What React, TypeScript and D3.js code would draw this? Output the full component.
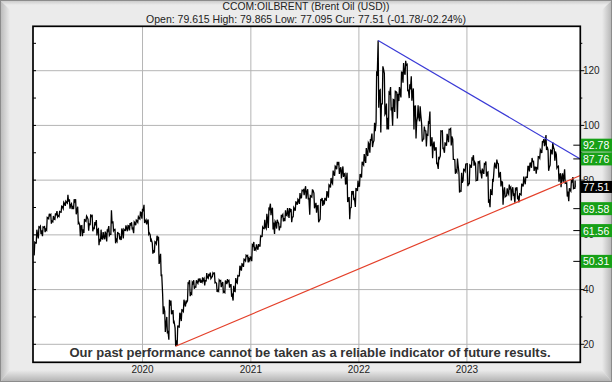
import React from 'react';
import * as d3 from 'd3';

const W = 612;
const H = 382;

// Weekly Brent data (Friday close, weekly high, weekly low)
const close2019 = [57.06,60.48,62.70,61.64,62.75,62.10,66.25,67.12,65.07,65.74,67.16,67.03,68.39,70.34,71.55,71.97,72.15,70.85,70.62,72.21,68.69,64.49,63.29,62.01,65.20,66.55,64.23,66.72,62.47,63.46,61.89,58.53,58.64,59.34,60.43,61.54,60.22,64.28,61.91,58.37,60.51,59.42,61.67,61.69,62.51,63.30,63.39,62.43,64.39,65.22,66.14,68.16];
const high2019 = [57.3,61.9,62.9,63.2,62.9,63.0,66.4,67.7,67.5,66.9,67.9,68.7,68.5,70.5,71.9,72.3,74.6,73.0,71.4,73.0,73.0,70.3,63.5,63.4,65.8,66.9,65.7,67.5,67.0,64.7,65.4,62.2,61.9,61.0,61.2,62.0,63.2,69.0,65.0,62.0,61.0,60.4,62.3,62.0,63.5,63.4,64.3,64.6,64.7,65.4,66.6,68.3];
const low2019 = [52.5,57.0,58.7,60.3,59.5,61.0,61.7,65.9,64.1,64.8,65.6,66.6,66.7,68.3,69.6,70.6,71.6,69.6,69.4,69.4,67.5,64.2,59.5,59.5,60.7,64.9,61.5,63.5,61.3,62.3,59.8,56.2,57.6,58.5,58.4,57.6,59.8,60.2,61.5,56.9,57.7,58.3,58.1,58.7,61.6,61.3,61.6,62.3,60.6,63.5,64.6,65.8];

const close2020 = [68.60,64.98,64.85,60.69,58.16,54.47,57.32,58.50,50.52,45.27,33.85,26.98,24.93,34.11,31.48,28.08,21.44,26.44,30.97,32.50,35.13,35.33,42.30,38.73,42.19,41.02,42.80,43.24,43.14,43.34,43.30,44.40,44.80,44.35,45.81,42.66,39.83,43.15,41.92,39.27,42.85,42.93,41.77,37.94,39.45,42.78,44.96,48.18,49.25,50.97,52.26,51.29];
const high2020 = [69.5,71.0,65.5,65.6,60.0,57.0,57.5,59.7,59.3,53.1,38.2,32.0,30.0,36.3,36.0,32.5,26.0,26.9,31.5,32.6,36.3,36.0,42.4,43.4,42.6,43.4,43.4,44.0,44.1,44.5,44.0,46.0,45.8,46.2,46.1,46.0,42.3,43.5,43.3,42.8,43.3,43.8,43.3,41.8,41.4,44.2,45.1,48.7,49.4,51.1,52.5,52.5];
const low2020 = [65.9,64.3,63.8,60.3,57.5,53.1,53.5,56.7,49.4,45.2,31.0,24.5,24.0,21.7,31.0,27.6,19.3,19.5,26.3,28.5,32.0,33.8,35.9,37.6,38.3,40.3,40.9,42.3,42.5,42.7,41.5,43.2,44.1,44.0,44.8,42.5,39.1,39.4,40.9,39.0,38.9,42.0,40.7,37.4,36.0,39.3,42.4,45.0,46.9,48.3,50.5,49.9];

const close2021 = [51.80,55.99,55.10,55.41,55.88,59.34,62.43,62.91,66.13,69.36,69.22,64.53,64.57,64.86,62.95,66.77,66.11,67.25,68.28,68.71,66.44,69.63,71.89,72.69,73.51,76.18,76.17,75.55,73.59,74.10,76.33,70.70,70.59,65.18,72.70,72.61,72.92,75.34,78.09,79.28,82.39,84.86,85.53,83.72,82.74,82.17,78.89,72.72,69.88,75.15,73.52,76.85,77.78];
const high2021 = [51.9,56.3,57.4,56.5,56.6,59.8,62.8,65.5,67.7,69.6,71.4,69.9,65.0,65.5,64.2,67.3,67.4,69.0,69.8,69.8,69.4,70.0,72.0,73.0,75.3,76.3,76.5,77.8,76.7,74.3,76.4,75.3,71.7,70.7,72.8,73.5,73.5,76.0,78.3,80.8,83.5,85.1,86.7,86.7,84.7,85.0,82.4,82.7,73.8,76.0,76.0,76.9,79.8];
const low2021 = [50.6,50.4,54.2,54.5,54.6,55.9,59.4,62.3,62.3,62.5,67.2,62.0,60.3,62.3,61.6,62.9,64.9,65.0,67.0,66.2,64.6,66.6,68.8,71.0,71.3,73.6,74.5,73.2,72.9,67.4,73.8,69.7,68.1,64.6,65.7,70.6,71.1,72.7,73.6,77.3,78.7,81.6,84.0,82.3,80.6,81.2,78.4,72.0,65.7,70.0,72.7,70.2,76.0];

const close2022 = [81.75,86.06,87.89,90.03,93.27,94.44,93.54,97.93,118.11,112.67,107.93,120.65,104.39,102.78,111.70,106.65,109.34,112.39,111.55,112.55,119.43,119.72,122.01,113.12,113.12,111.63,107.02,101.16,103.20,104.0,94.92,98.15,96.72,100.99,93.02,92.84,91.35,86.15,87.96,97.92,91.63,93.50,95.77,98.57,95.99,87.62,83.63,85.57,76.10,79.04,83.92,85.91];
const high2022 = [82.2,86.7,89.5,91.7,93.7,95.0,97.0,101.0,119.8,131.0,113.0,121.6,119.0,108.0,112.0,114.0,109.5,112.5,112.0,114.0,119.5,122.8,123.6,122.3,115.0,118.0,113.5,107.1,107.4,107.0,100.5,99.6,98.0,101.2,105.1,95.7,94.1,92.0,88.5,98.0,98.0,93.6,96.9,98.6,98.9,95.0,87.5,87.9,82.7,82.7,84.0,85.9];
const low2022 = [77.8,81.0,85.5,86.3,88.8,90.0,92.1,94.5,100.9,106.5,97.4,107.9,104.0,98.5,98.5,105.5,99.9,104.9,102.5,108.9,110.2,115.6,118.5,112.5,110.0,109.0,98.5,95.2,103.0,101.5,94.1,95.0,92.3,96.5,92.4,88.0,90.8,86.1,84.1,88.9,91.6,90.0,92.6,93.9,92.7,87.6,82.3,83.0,75.5,76.0,79.8,83.3];

const close2023 = [78.57,85.28,87.63,86.66,79.94,86.39,83.00,83.16,85.83,82.78,72.97,74.99,79.77,85.12,86.31,81.66,79.54,75.30,74.17,75.58,76.95,76.13,74.79,76.61,73.85,74.90,78.47,79.87,81.07,84.99,86.24,86.81,84.80,84.48,88.55,90.65,93.93,93.27,92.20,84.58,90.89,92.16,90.48,84.89,81.43,80.61,80.58,78.88,75.84,76.55,79.07,77.04];
const high2023 = [86.0,85.5,87.9,89.1,86.0,86.9,86.8,84.2,86.0,86.8,83.0,76.7,80.0,86.4,87.5,86.0,83.0,79.3,77.4,77.0,78.4,77.4,77.4,76.9,77.4,75.0,78.5,81.3,81.1,85.0,86.2,88.1,86.9,84.7,88.6,91.1,94.0,95.0,96.5,91.0,91.0,93.8,91.2,89.3,85.1,82.5,82.5,84.0,79.0,77.0,80.0,81.1];
const low2023 = [77.8,78.7,84.5,85.3,79.8,80.0,82.5,80.6,82.3,81.3,71.7,70.1,74.8,84.5,84.2,80.9,77.7,71.0,73.9,74.3,74.9,72.6,74.6,71.8,73.5,71.9,74.6,77.7,78.5,81.0,83.2,84.5,83.4,82.4,84.2,88.0,89.9,92.4,91.0,83.4,85.5,89.4,87.1,84.5,79.4,77.4,79.4,78.8,74.0,72.3,76.0,76.9];

// last session (2 Jan 2024)
const lastDate = '2024-01-02';
const lastClose = 77.51;
const lastHigh = 79.865;
const lastLow = 77.095;

const yearTicks = [2020, 2021, 2022, 2023];
const gridValues = [20, 40, 60, 80, 100, 120];
const minorValues = [20, 30, 40, 50, 60, 70, 80, 90, 100, 110, 120, 130];
const targetLevels = [92.78, 87.76, 69.58, 61.56, 50.31];
const currentLevel = 77.51;

const downTrend = [
  { date: '2022-03-07', value: 131 },
  { date: '2024-01-19', value: 87.76 },
];
const upTrend = [
  { date: '2020-04-22', value: 19.3 },
  { date: '2024-01-19', value: 81.7 },
];

const titleText = 'CCOM:OILBRENT (Brent Oil (USD))';
const subtitleText = 'Open: 79.615 High: 79.865 Low: 77.095 Cur: 77.51 (-01.78/-02.24%)';
const disclaimerText = 'Our past performance cannot be taken as a reliable indicator of future results.';

const FONT = '"Liberation Sans", Arial, Helvetica, sans-serif';

const PL = 33, PR = 580.3, PT = 26.3, PB = 362.3;

export default function App() {
  const parse = d3.timeParse('%Y-%m-%d');
  const x = d3.scaleTime()
    .domain([new Date(2018, 11, 27), new Date(2024, 0, 19)])
    .range([PL, PR]);
  const y = d3.scaleLinear().domain([20, 120]).range([344.3, 70.7]);

  const closes = [...close2019, ...close2020, ...close2021, ...close2022, ...close2023];
  const highs = [...high2019, ...high2020, ...high2021, ...high2022, ...high2023];
  const lows = [...low2019, ...low2020, ...low2021, ...low2022, ...low2023];
  const fridays = d3.timeFriday.range(new Date(2019, 0, 4), new Date(2023, 11, 30));

  type Pt = { d: Date; v: number };
  const pts: Pt[] = [];
  const weeks = fridays.map((f, i) => ({ d: f, c: closes[i], h: highs[i], l: lows[i] }));
  weeks.push({ d: parse(lastDate) as Date, c: lastClose, h: lastHigh, l: lastLow });
  weeks.forEach((wk, i) => {
    const prev = i === 0 ? wk.l : weeks[i - 1].c;
    const up = wk.c >= prev;
    const isLast = i === weeks.length - 1;
    const d1 = d3.timeDay.offset(wk.d, isLast ? -1 : -4);
    const d2 = isLast ? d3.timeHour.offset(wk.d, -12) : d3.timeDay.offset(wk.d, -2);
    pts.push({ d: d1, v: up ? wk.l : wk.h });
    pts.push({ d: d2, v: up ? wk.h : wk.l });
    pts.push({ d: wk.d, v: wk.c });
  });

  const line = d3.line<Pt>().x((p) => x(p.d)).y((p) => y(p.v));
  const trendLine = d3.line<{ date: string; value: number }>()
    .x((p) => x(parse(p.date) as Date))
    .y((p) => y(p.value));

  const boxH = 13;

  return (
    <div style={{ position: 'absolute', left: 0, top: 0 }}>
      <svg width={W} height={H} style={{ display: 'block' }} fontFamily={FONT}>
        <defs>
          <linearGradient id="gl" x1="0" x2="1" y1="0" y2="0">
            <stop offset="0" stopColor="#b8b8b8" />
            <stop offset="1" stopColor="#ebebeb" />
          </linearGradient>
          <linearGradient id="gr" x1="0" x2="1" y1="0" y2="0">
            <stop offset="0" stopColor="#ebebeb" />
            <stop offset="1" stopColor="#b3b3b3" />
          </linearGradient>
          <linearGradient id="gb" x1="0" x2="0" y1="0" y2="1">
            <stop offset="0" stopColor="#ebebeb" />
            <stop offset="1" stopColor="#b0b0b0" />
          </linearGradient>
          <linearGradient id="gt" x1="0" x2="0" y1="0" y2="1">
            <stop offset="0" stopColor="#c4c4c4" />
            <stop offset="1" stopColor="#ebebeb" />
          </linearGradient>
          <clipPath id="plotClip">
            <rect x={PL} y={PT} width={PR - PL} height={PB - PT} />
          </clipPath>
        </defs>

        {/* bevelled background */}
        <rect x={0} y={0} width={W} height={H} fill="#ebebeb" />
        <polygon points={`0,0 ${W},0 ${W - 5},5 5,5`} fill="url(#gt)" />
        <polygon points={`0,0 10,10 10,${H - 12} 0,${H}`} fill="url(#gl)" />
        <polygon points={`${W},0 ${W - 10},10 ${W - 10},${H - 12} ${W},${H}`} fill="url(#gr)" />
        <polygon points={`0,${H} 10,${H - 12} ${W - 10},${H - 12} ${W},${H}`} fill="url(#gb)" />
        <rect x={0.5} y={0.5} width={W - 1} height={H - 1} fill="none" stroke="#8c8c8c" />

        {/* titles */}
        <text x={306} y={10} textAnchor="middle" fontSize={10.3} fill="#222">{titleText}</text>
        <text x={306} y={22.5} textAnchor="middle" fontSize={10.5} fill="#222">{subtitleText}</text>

        {/* plot area */}
        <rect x={PL} y={PT} width={PR - PL} height={PB - PT} fill="#ffffff" />

        {/* grid */}
        {gridValues.map((v) => (
          <line key={'gy' + v} x1={PL} x2={PR} y1={y(v)} y2={y(v)} stroke="#b5b5b5" strokeWidth={1} />
        ))}
        {yearTicks.map((yr) => (
          <line key={'gx' + yr} x1={x(new Date(yr, 0, 1))} x2={x(new Date(yr, 0, 1))} y1={PT} y2={PB} stroke="#b5b5b5" strokeWidth={1} />
        ))}

        {/* price */}
        <g clipPath="url(#plotClip)">
          <path d={line(pts) || ''} fill="none" stroke="#000" strokeWidth={1.3} strokeLinejoin="miter" />
          <path d={trendLine(downTrend) || ''} fill="none" stroke="#3a3ad6" strokeWidth={1.2} />
          <path d={trendLine(upTrend) || ''} fill="none" stroke="#e4402a" strokeWidth={1.2} />
        </g>

        {/* disclaimer */}
        <text x={310} y={357} textAnchor="middle" fontSize={13.5} fontWeight="bold" fill="#333"
          textLength={481} lengthAdjust="spacingAndGlyphs">{disclaimerText}</text>

        {/* frame */}
        <rect x={PL} y={PT} width={PR - PL} height={PB - PT} fill="none" stroke="#000" strokeWidth={1.7} />

        {/* left ticks */}
        {minorValues.map((v) => (
          <line key={'lt' + v} x1={PL} x2={PL + 3} y1={y(v)} y2={y(v)} stroke="#000" strokeWidth={1} />
        ))}
        {/* right ticks */}
        {minorValues.map((v) => (
          <line key={'rt' + v} x1={PR} x2={PR + (v % 20 === 0 ? 4 : 2)} y1={y(v)} y2={y(v)} stroke="#000" strokeWidth={1} />
        ))}

        {/* x labels */}
        {yearTicks.map((yr) => (
          <text key={'xl' + yr} x={x(new Date(yr, 0, 1))} y={373} textAnchor="middle" fontSize={10} fill="#222">{yr}</text>
        ))}

        {/* right axis labels */}
        {gridValues.map((v) => (
          <text key={'yl' + v} x={583} y={y(v) + 3.6} fontSize={10} fill="#222">{v}</text>
        ))}

        {/* target level boxes */}
        {targetLevels.map((v) => (
          <g key={'tl' + v}>
            <line x1={PR - 7} x2={PR} y1={y(v)} y2={y(v)} stroke="#000" strokeWidth={1} />
            <rect x={PR + 0.5} y={y(v) - boxH / 2} width={W - PR} height={boxH} fill="#17a017" />
            <text x={583} y={y(v) + 4} fontSize={10.5} fill="#ffffff">{v.toFixed(2)}</text>
          </g>
        ))}
        <g>
          <rect x={PR + 0.5} y={y(currentLevel) - 6} width={W - PR} height={12} fill="#000" />
          <text x={583} y={y(currentLevel) + 4} fontSize={10.5} fill="#ffffff">{currentLevel.toFixed(2)}</text>
        </g>
      </svg>
    </div>
  );
}
